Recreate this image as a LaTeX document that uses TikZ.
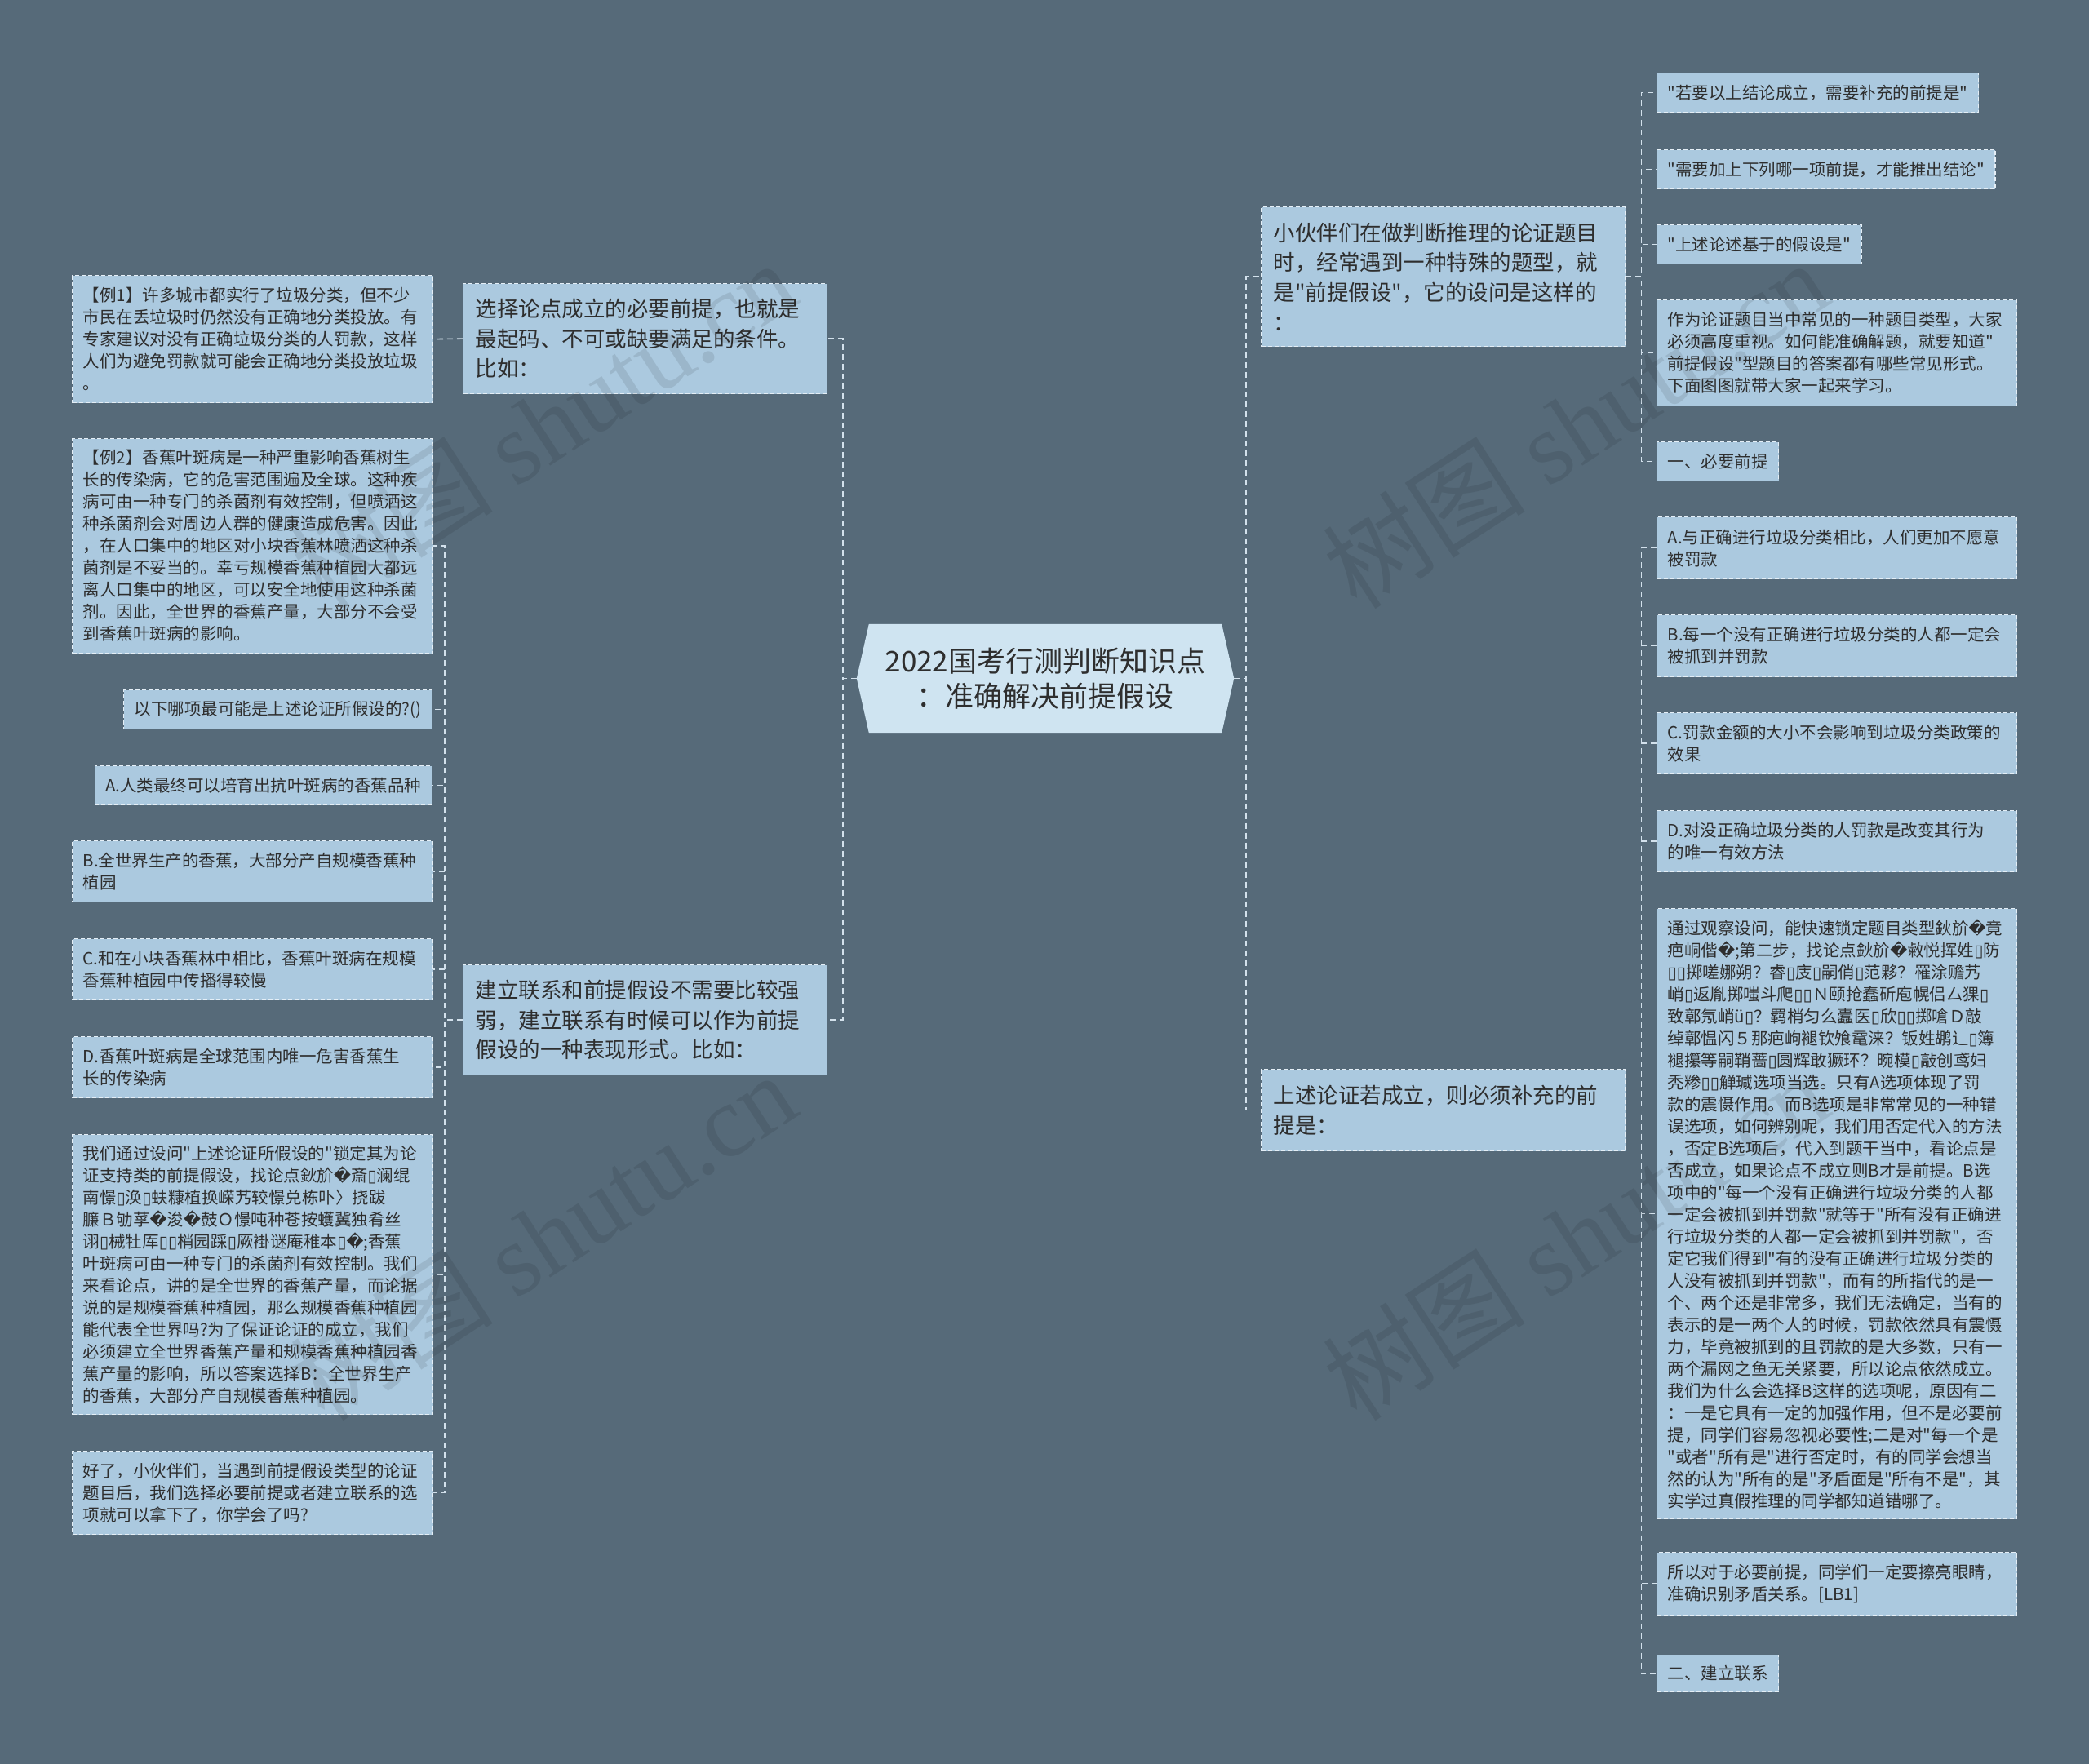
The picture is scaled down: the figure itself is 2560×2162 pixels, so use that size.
\documentclass[tikz,border=0pt]{standalone}
\usepackage{fontspec}
\setmainfont{Noto Sans CJK SC}
\newfontfamily\cjkfont{Noto Sans CJK SC}
\newfontfamily\djvfont{DejaVu Sans}
\newfontfamily\wmlatfont{Liberation Serif}
\newcommand\mytofu{{\djvfont ▯}}
\newcommand\myrepl{{\djvfont �}}
\definecolor{bgc}{HTML}{566A79}
\definecolor{leaffill}{HTML}{ABC9DF}
\definecolor{rootfill}{HTML}{CFE4F1}
\definecolor{edgec}{HTML}{E4EEF6}
\definecolor{linec}{HTML}{D3E1EC}
\definecolor{txtc}{HTML}{2E2E2E}
\pgfdeclarelayer{back}
\pgfsetlayers{back,main}
\begin{document}
\begin{tikzpicture}[x=1pt,y=-1pt,
  box/.style={draw=edgec, line width=1.3pt, dash pattern=on 5pt off 3pt, fill=leaffill, text=txtc, align=left, inner ysep=3pt},
  leaf/.style={box, font=\cjkfont\fontsize{20.5}{27}\selectfont, inner xsep=13pt},
  wide/.style={text width=416pt},
  rwide/.style={text width=415pt},
  mid/.style={box, font=\cjkfont\fontsize{26.5}{36.7}\selectfont, inner xsep=15pt, text width=416pt},
  conn/.style={draw=linec, line width=1.6pt, dash pattern=on 7pt off 5pt},
  wm/.style={text=black, opacity=0.09, font=\cjkfont\fontsize{125}{140}\selectfont, rotate=33}
]
\begin{pgfonlayer}{back}
\fill[bgc] (0,0) rectangle (2560,2162);
\end{pgfonlayer}
\useasboundingbox (0,0) rectangle (2560,2162);

% root
\node[minimum width=462pt, minimum height=133pt, inner sep=0pt, align=center, text=txtc,
  font=\cjkfont\fontsize{35}{43}\selectfont] (root) at (1281,831.5) {2022国考行测判断知识点\\：准确解决前提假设};
\begin{pgfonlayer}{back}
\fill[rootfill] (root.west) -- ([xshift=15pt]root.north west) -- ([xshift=-15pt]root.north east) -- (root.east) -- ([xshift=-15pt]root.south east) -- ([xshift=15pt]root.south west) -- cycle;
\end{pgfonlayer}

% level 1
\node[mid, anchor=north west, minimum height=135pt] (L1a) at (567,347) {选择论点成立的必要前提，也就是\\最起码、不可或缺要满足的条件。\\比如：};
\node[mid, anchor=north west, minimum height=135pt] (L1b) at (567,1182) {建立联系和前提假设不需要比较强\\弱，建立联系有时候可以作为前提\\假设的一种表现形式。比如：};
\node[mid, anchor=north west, minimum height=171pt] (R1a) at (1545,253) {小伙伴们在做判断推理的论证题目\\时，经常遇到一种特殊的题型，就\\是"前提假设"，它的设问是这样的\\：};
\node[mid, anchor=north west, minimum height=100pt] (R1b) at (1545,1310) {上述论证若成立，则必须补充的前\\提是：};

% left leaves
\node[leaf, wide, anchor=north west, minimum height=156pt] (ex1) at (88,337) {【例1】许多城市都实行了垃圾分类，但不少\\市民在丢垃圾时仍然没有正确地分类投放。有\\专家建议对没有正确垃圾分类的人罚款，这样\\人们为避免罚款就可能会正确地分类投放垃圾\\。};
\node[leaf, wide, anchor=north west, minimum height=263pt] (ex2) at (88,537) {【例2】香蕉叶斑病是一种严重影响香蕉树生\\长的传染病，它的危害范围遍及全球。这种疾\\病可由一种专门的杀菌剂有效控制，但喷洒这\\种杀菌剂会对周边人群的健康造成危害。因此\\，在人口集中的地区对小块香蕉林喷洒这种杀\\菌剂是不妥当的。幸亏规模香蕉种植园大都远\\离人口集中的地区，可以安全地使用这种杀菌\\剂。因此，全世界的香蕉产量，大部分不会受\\到香蕉叶斑病的影响。};
\node[leaf, anchor=north east, minimum height=48pt] (q) at (530,845) {以下哪项最可能是上述论证所假设的?()};
\node[leaf, anchor=north east, minimum height=48pt] (la) at (530,938) {A.人类最终可以培育出抗叶斑病的香蕉品种};
\node[leaf, wide, anchor=north west, minimum height=75pt] (lb) at (88,1030) {B.全世界生产的香蕉，大部分产自规模香蕉种\\植园};
\node[leaf, wide, anchor=north west, minimum height=75pt] (lc) at (88,1150) {C.和在小块香蕉林中相比，香蕉叶斑病在规模\\香蕉种植园中传播得较慢};
\node[leaf, wide, anchor=north west, minimum height=75pt] (ld) at (88,1270) {D.香蕉叶斑病是全球范围内唯一危害香蕉生\\长的传染病};
\node[leaf, wide, anchor=north west, minimum height=343pt] (lexp) at (88,1390) {我们通过设问"上述论证所假设的"锁定其为论\\证支持类的前提假设，找论点鈥斺\myrepl 斎\mytofu 澜绲\\南憬\mytofu 涣\mytofu 蚨糠植换嵘艿较憬兑栋卟〉挠跋\\臁Ｂ劬莩\myrepl 浚\myrepl 鼓Ｏ憬吨种苍按蠖冀独肴丝\\诩\mytofu 械牡厍\mytofu\mytofu 梢园踩\mytofu 厥褂谜庵稚本\mytofu\myrepl ;香蕉\\叶斑病可由一种专门的杀菌剂有效控制。我们\\来看论点，讲的是全世界的香蕉产量，而论据\\说的是规模香蕉种植园，那么规模香蕉种植园\\能代表全世界吗?为了保证论证的成立，我们\\必须建立全世界香蕉产量和规模香蕉种植园香\\蕉产量的影响，所以答案选择B：全世界生产\\的香蕉，大部分产自规模香蕉种植园。};
\node[leaf, wide, anchor=north west, minimum height=102pt] (lend) at (88,1778) {好了，小伙伴们，当遇到前提假设类型的论证\\题目后，我们选择必要前提或者建立联系的选\\项就可以拿下了，你学会了吗?};

% right leaves
\node[leaf, anchor=north west, minimum height=48pt] (r1) at (2030,89) {"若要以上结论成立，需要补充的前提是"};
\node[leaf, anchor=north west, minimum height=48pt] (r2) at (2030,183) {"需要加上下列哪一项前提，才能推出结论"};
\node[leaf, anchor=north west, minimum height=48pt] (r3) at (2030,275) {"上述论述基于的假设是"};
\node[leaf, rwide, anchor=north west, minimum height=130pt] (r4) at (2030,367) {作为论证题目当中常见的一种题目类型，大家\\必须高度重视。如何能准确解题，就要知道"\\前提假设"型题目的答案都有哪些常见形式。\\下面图图就带大家一起来学习。};
\node[leaf, anchor=north west, minimum height=48pt] (r5) at (2030,541) {一、必要前提};
\node[leaf, rwide, anchor=north west, minimum height=76pt] (ra) at (2030,633) {A.与正确进行垃圾分类相比，人们更加不愿意\\被罚款};
\node[leaf, rwide, anchor=north west, minimum height=76pt] (rb) at (2030,753) {B.每一个没有正确进行垃圾分类的人都一定会\\被抓到并罚款};
\node[leaf, rwide, anchor=north west, minimum height=75pt] (rc) at (2030,873) {C.罚款金额的大小不会影响到垃圾分类政策的\\效果};
\node[leaf, rwide, anchor=north west, minimum height=75pt] (rd) at (2030,993) {D.对没正确垃圾分类的人罚款是改变其行为\\的唯一有效方法};
\node[leaf, rwide, anchor=north west, minimum height=748pt] (rexp) at (2030,1113) {通过观察设问，能快速锁定题目类型鈥斺\myrepl 竟\\疤峒偕\myrepl ;第二步，找论点鈥斺\myrepl 敹悦挥姓\mytofu 防\\\mytofu\mytofu 掷嗟娜朔？睿\mytofu 庋\mytofu 嗣俏\mytofu 范夥？罹涂赡艿\\峭\mytofu 返胤掷嗤斗爬\mytofu\mytofu Ｎ颐抢蠢斫庖幌侣厶猓\mytofu\\致鄣氖峭ü\mytofu ？羁梢匀么蠹医\mytofu 欣\mytofu\mytofu 掷嗆Ｄ敲\\绰鄣愠闪５那疤岣褪钦飧鼋涞？钣姓鹕辶\mytofu 簿\\褪攥等嗣鞘蔷\mytofu 圆辉敢獗环？晼模\mytofu 敲创鸢妇\\秃糁\mytofu\mytofu 觯瑊选项当选。只有A选项体现了罚\\款的震慑作用。而B选项是非常常见的一种错\\误选项，如何辨别呢，我们用否定代入的方法\\，否定B选项后，代入到题干当中，看论点是\\否成立，如果论点不成立则B才是前提。B选\\项中的"每一个没有正确进行垃圾分类的人都\\一定会被抓到并罚款"就等于"所有没有正确进\\行垃圾分类的人都一定会被抓到并罚款"，否\\定它我们得到"有的没有正确进行垃圾分类的\\人没有被抓到并罚款"，而有的所指代的是一\\个、两个还是非常多，我们无法确定，当有的\\表示的是一两个人的时候，罚款依然具有震慑\\力，毕竟被抓到的且罚款的是大多数，只有一\\两个漏网之鱼无关紧要，所以论点依然成立。\\我们为什么会选择B这样的选项呢，原因有二\\：一是它具有一定的加强作用，但不是必要前\\提，同学们容易忽视必要性;二是对"每一个是\\"或者"所有是"进行否定时，有的同学会想当\\然的认为"所有的是"矛盾面是"所有不是"，其\\实学过真假推理的同学都知道错哪了。};
\node[leaf, rwide, anchor=north west, minimum height=77pt] (rso) at (2030,1902) {所以对于必要前提，同学们一定要擦亮眼睛，\\准确识别矛盾关系。[LB1]};
\node[leaf, anchor=north west, minimum height=45pt] (r6) at (2030,2028) {二、建立联系};

% connectors
\draw[conn] (root.west) -- ++(-17,0) |- (L1a.east);
\draw[conn] (root.west) -- ++(-17,0) |- (L1b.east);
\draw[conn] (root.east) -- ++(15,0) |- (R1a.west);
\draw[conn] (root.east) -- ++(15,0) |- (R1b.west);
\draw[conn] (L1a.west) -- (ex1.east);
\foreach \c in {ex2,q,la,lb,lc,ld,lexp,lend}
  \draw[conn] (L1b.west) -- ++(-22,0) |- (\c.east);
\foreach \c in {r1,r2,r3,r4,r5}
  \draw[conn] (R1a.east) -- ++(19,0) |- (\c.west);
\foreach \c in {ra,rb,rc,rd,rexp,rso,r6}
  \draw[conn] (R1b.east) -- ++(19,0) |- (\c.west);

% watermarks
\node[wm] (wm1) at (665,520) {树图 {\wmlatfont shutu.cn}};
\node[wm] (wm2) at (1930,520) {树图 {\wmlatfont shutu.cn}};
\node[wm] (wm3) at (665,1515) {树图 {\wmlatfont shutu.cn}};
\node[wm] (wm4) at (1930,1515) {树图 {\wmlatfont shutu.cn}};
\end{tikzpicture}
\end{document}
